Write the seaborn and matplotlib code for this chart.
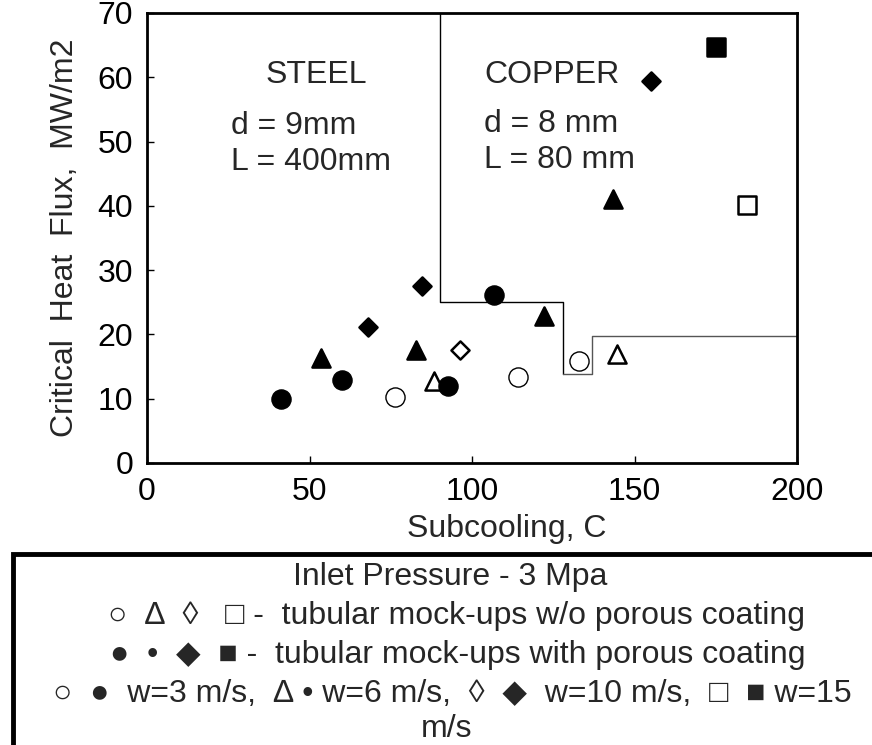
import matplotlib
matplotlib.use("Agg")
import matplotlib.pyplot as plt
import seaborn as sns
import pandas as pd
from matplotlib.patches import Rectangle

# subcooling (C) and critical heat flux (MW/m2)
# open symbols: tubular mock-ups w/o porous coating
plain_w3_x = [76.3, 114.1, 132.9]
plain_w3_y = [10.3, 13.4, 15.9]
plain_w6_x = [88.2, 144.5]
plain_w6_y = [12.8, 17.0]
plain_w10_x = [96.2]
plain_w10_y = [17.6]
plain_w15_x = [184.6]
plain_w15_y = [40.1]
# filled symbols: tubular mock-ups with porous coating
porous_w3_x = [41.2, 60.1, 92.5, 106.7]
porous_w3_y = [10.0, 12.9, 12.0, 26.1]
porous_w6_x = [53.4, 82.7, 122.3, 143.5]
porous_w6_y = [16.3, 17.6, 22.9, 41.0]
porous_w10_x = [68.0, 84.6, 155.2]
porous_w10_y = [21.1, 27.5, 59.5]
porous_w15_x = [175.2]
porous_w15_y = [64.7]

# steel / copper boundary
boundary_x = [90, 90, 128, 128, 137, 137, 200]
boundary_y = [70, 25, 25, 13.8, 13.8, 19.8, 19.8]

x_ticks = [0, 50, 100, 150, 200]
y_ticks = [0, 10, 20, 30, 40, 50, 60, 70]

rows = []
for coating, vel, xs, ys in [
    ("plain", 3, plain_w3_x, plain_w3_y), ("plain", 6, plain_w6_x, plain_w6_y),
    ("plain", 10, plain_w10_x, plain_w10_y), ("plain", 15, plain_w15_x, plain_w15_y),
    ("porous", 3, porous_w3_x, porous_w3_y), ("porous", 6, porous_w6_x, porous_w6_y),
    ("porous", 10, porous_w10_x, porous_w10_y), ("porous", 15, porous_w15_x, porous_w15_y),
]:
    for x, y in zip(xs, ys):
        rows.append({"subcooling": x, "chf": y, "coating": coating, "w": vel})
df = pd.DataFrame(rows)

marker_for = {3: "o", 6: "^", 10: "D", 15: "s"}
size_for = {3: 190, 6: 170, 10: 85, 15: 150}

FS = 23
sns.set_theme(style="ticks")
plt.rcParams["font.family"] = ["Liberation Sans", "DejaVu Sans"]
plt.rcParams["font.size"] = FS

fig = plt.figure(figsize=(8.72, 7.45), dpi=100)
ax = fig.add_axes([147 / 872, 1 - 463 / 745, 650 / 872, 450 / 745])

ax.plot(boundary_x[:4], boundary_y[:4], color="black", lw=1.0, zorder=1)
ax.plot(boundary_x[3:], boundary_y[3:], color="#555555", lw=1.0, zorder=1)

for (coating, vel), grp in df.groupby(["coating", "w"]):
    filled = coating == "porous"
    sns.scatterplot(data=grp, x="subcooling", y="chf", ax=ax,
                    marker=marker_for[vel], s=size_for[vel],
                    color="black" if filled else "white",
                    edgecolor="black", linewidth=1.0 if vel == 3 else 1.8,
                    legend=False, zorder=3)

ax.text(52, 60.4, "STEEL", ha="center", va="center", fontsize=FS)
ax.text(25.9, 52.5, "d = 9mm", ha="left", va="center", fontsize=FS)
ax.text(25.9, 46.8, "L = 400mm", ha="left", va="center", fontsize=FS)
ax.text(103.8, 60.4, "COPPER", ha="left", va="center", fontsize=FS)
ax.text(103.8, 52.7, "d = 8 mm", ha="left", va="center", fontsize=FS)
ax.text(103.8, 47.2, "L = 80 mm", ha="left", va="center", fontsize=FS)

ax.set_xlim(0, 200)
ax.set_ylim(0, 70)
ax.set_xticks(x_ticks)
ax.set_yticks(y_ticks)
ax.tick_params(direction="in", length=5, width=1, labelsize=FS, pad=10, colors="black")
for sp in ax.spines.values():
    sp.set_linewidth(2)
    sp.set_color("black")

ax.set_xlabel("Subcooling, C", fontsize=FS)
ax.set_ylabel("Critical  Heat  Flux,  MW/m2", fontsize=FS)
ax.xaxis.set_label_coords(0.554, -0.147)
ax.xaxis.label.set_va("center")
ax.yaxis.set_label_coords(-0.126, 0.5)
ax.yaxis.label.set_va("center")

# boxed key below the chart
fig.patches.append(Rectangle((13 / 872, -0.1), 1.2, 1 - 554 / 745 + 0.1,
                             transform=fig.transFigure, fill=False,
                             edgecolor="black", linewidth=3.5))

def put(x_px, base_px, s, ha="left"):
    fig.text(x_px / 872, 1 - base_px / 745, s, ha=ha, va="baseline", fontsize=FS,
             family=["Liberation Sans", "DejaVu Sans"])

put(293, 585, "Inlet Pressure - 3 Mpa")
put(805, 624, "\u25cb  \u2206  \u25ca   \u25a1 -  tubular mock-ups w/o porous coating", ha="right")
put(805, 663, "\u25cf  \u2022  \u25c6  \u25a0 -  tubular mock-ups with porous coating", ha="right")
put(852, 702, "\u25cb  \u25cf  w=3 m/s,  \u2206 \u2022 w=6 m/s,  \u25ca  \u25c6  w=10 m/s,  \u25a1  \u25a0 w=15", ha="right")
put(447, 737, "m/s", ha="center")

fig.savefig("out.png", dpi=100)
